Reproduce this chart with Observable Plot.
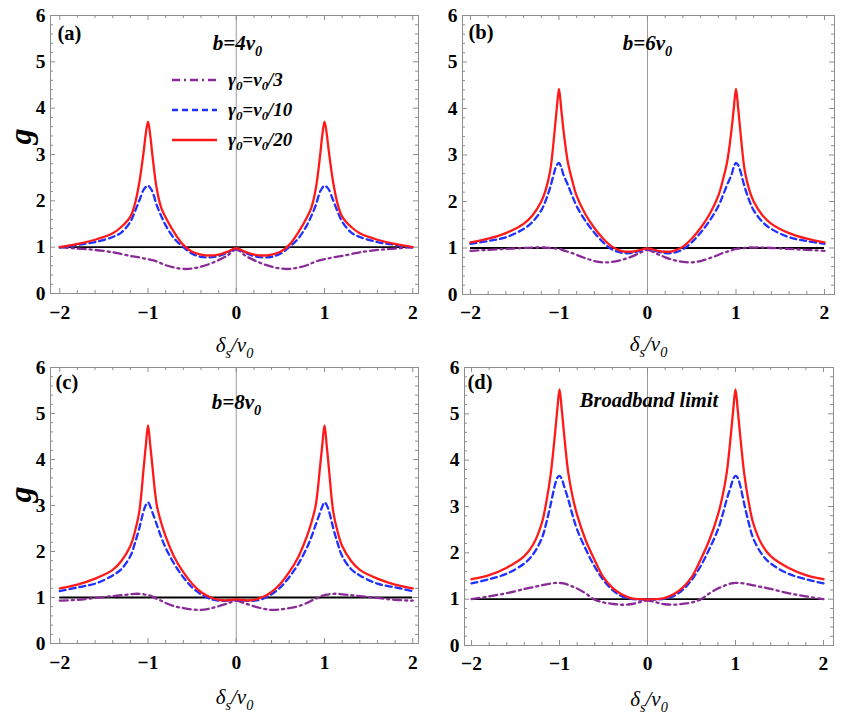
<!DOCTYPE html>
<html>
<head>
<meta charset="utf-8">
<script src="https://cdn.jsdelivr.net/npm/d3@7"></script>
<script src="https://cdn.jsdelivr.net/npm/@observablehq/plot@0.6"></script>
<style>
  body { margin: 0; background: #fff; }
  #wrap { position: relative; width: 841px; height: 715px; overflow: hidden; background: #fff; }
  .panel { position: absolute; }
  #legend { position: absolute; left: 172px; top: 65px; font: italic bold 19px "Liberation Serif", "Times New Roman", serif; color: #000; }
  #legend .row { height: 30px; display: flex; align-items: center; }
  #legend .row svg { width: 45px; height: 30px; margin-right: 11px; }
  #legend sub { font-size: 0.68em; vertical-align: -0.28em; line-height: 0; }
</style>
</head>
<body>
<div id="wrap"></div>
<script>
// ---- data ----
const xs = [-2,-1.8,-1.6,-1.4,-1.3,-1.2,-1.15,-1.1,-1.05,-1.025,-1,-0.975,-0.95,-0.9,-0.85,-0.8,-0.7,-0.6,-0.5,-0.4,-0.3,-0.2,-0.1,
            0,
            0.1,0.2,0.3,0.4,0.5,0.6,0.7,0.8,0.85,0.9,0.95,0.975,1,1.025,1.05,1.1,1.15,1.2,1.3,1.4,1.6,1.8,2];

// (a) b = 4 v0
const red_a    = [1.00,1.07,1.16,1.30,1.44,1.66,1.92,2.38,3.05,3.45,3.71,3.42,2.98,2.25,1.85,1.64,1.31,1.05,0.90,0.84,0.82,0.84,0.90,
                  0.98,
                  0.90,0.84,0.82,0.84,0.90,1.05,1.31,1.64,1.85,2.25,2.98,3.42,3.71,3.45,3.05,2.38,1.92,1.66,1.44,1.30,1.16,1.07,1.00];
const blue_a   = [0.99,1.05,1.11,1.22,1.32,1.55,1.76,2.00,2.24,2.30,2.33,2.28,2.20,1.90,1.67,1.47,1.18,1.00,0.86,0.79,0.78,0.81,0.88,
                  0.97,
                  0.88,0.81,0.78,0.79,0.86,1.00,1.18,1.47,1.67,1.90,2.20,2.28,2.33,2.30,2.24,2.00,1.76,1.55,1.32,1.22,1.11,1.05,0.99];
const purple_a = [1.00,0.97,0.94,0.89,0.85,0.81,0.795,0.78,0.76,0.75,0.74,0.73,0.72,0.69,0.65,0.61,0.56,0.53,0.54,0.58,0.64,0.72,0.82,
                  0.95,
                  0.82,0.72,0.64,0.58,0.54,0.53,0.56,0.61,0.65,0.69,0.72,0.73,0.74,0.75,0.76,0.78,0.795,0.81,0.85,0.89,0.94,0.97,1.00];

// (b) b = 6 v0
const red_b    = [1.12,1.20,1.32,1.52,1.70,2.00,2.25,2.65,3.50,4.00,4.42,4.00,3.55,2.85,2.45,2.12,1.72,1.43,1.20,1.03,0.94,0.92,0.95,
                  0.99,
                  0.95,0.92,0.94,1.03,1.20,1.43,1.72,2.12,2.45,2.85,3.55,4.00,4.42,4.00,3.50,2.65,2.25,2.00,1.70,1.52,1.32,1.20,1.12];
const blue_b   = [1.09,1.15,1.23,1.41,1.56,1.81,2.02,2.30,2.65,2.78,2.83,2.74,2.58,2.36,2.12,1.90,1.58,1.33,1.12,0.97,0.90,0.89,0.93,
                  0.98,
                  0.93,0.89,0.90,0.97,1.12,1.33,1.58,1.90,2.12,2.36,2.58,2.74,2.83,2.78,2.65,2.30,2.02,1.81,1.56,1.41,1.23,1.15,1.09];
const purple_b = [0.94,0.96,0.98,1.00,1.01,1.01,1.01,1.00,0.99,0.985,0.98,0.97,0.95,0.92,0.89,0.85,0.78,0.72,0.69,0.70,0.74,0.80,0.88,
                  0.96,
                  0.88,0.80,0.74,0.70,0.69,0.72,0.78,0.85,0.89,0.92,0.95,0.97,0.98,0.985,0.99,1.00,1.01,1.01,1.01,1.00,0.98,0.96,0.94];

// (c) b = 8 v0
const red_c    = [1.20,1.28,1.41,1.60,1.80,2.12,2.42,2.85,3.80,4.30,4.74,4.32,3.85,3.00,2.62,2.33,1.87,1.55,1.30,1.12,1.01,0.95,0.94,
                  0.96,
                  0.94,0.95,1.01,1.12,1.30,1.55,1.87,2.33,2.62,3.00,3.85,4.32,4.74,4.30,3.80,2.85,2.42,2.12,1.80,1.60,1.41,1.28,1.20];
const blue_c   = [1.14,1.22,1.30,1.48,1.62,1.90,2.17,2.50,2.88,3.01,3.07,2.98,2.85,2.58,2.31,2.08,1.72,1.44,1.22,1.07,0.97,0.93,0.93,
                  0.95,
                  0.93,0.93,0.97,1.07,1.22,1.44,1.72,2.08,2.31,2.58,2.85,2.98,3.07,3.01,2.88,2.50,2.17,1.90,1.62,1.48,1.30,1.22,1.14];
const purple_c = [0.93,0.95,0.99,1.03,1.05,1.07,1.08,1.08,1.07,1.06,1.05,1.04,1.02,0.97,0.93,0.88,0.81,0.77,0.74,0.73,0.76,0.81,0.87,
                  0.93,
                  0.87,0.81,0.76,0.73,0.74,0.77,0.81,0.88,0.93,0.97,1.02,1.04,1.05,1.06,1.07,1.08,1.08,1.07,1.05,1.03,0.99,0.95,0.93];

// (d) broadband limit
const red_d    = [1.43,1.52,1.68,1.93,2.18,2.65,3.10,3.70,4.60,5.10,5.53,5.10,4.60,3.72,3.20,2.82,2.26,1.84,1.47,1.25,1.11,1.03,1.00,
                  0.99,
                  1.00,1.03,1.11,1.25,1.47,1.84,2.26,2.82,3.20,3.72,4.60,5.10,5.53,5.10,4.60,3.70,3.10,2.65,2.18,1.93,1.68,1.52,1.43];
const blue_d   = [1.34,1.43,1.55,1.77,1.97,2.32,2.65,3.05,3.48,3.62,3.66,3.60,3.45,3.15,2.80,2.50,2.07,1.70,1.41,1.20,1.07,1.01,0.99,
                  0.99,
                  0.99,1.01,1.07,1.20,1.41,1.70,2.07,2.50,2.80,3.15,3.45,3.60,3.66,3.62,3.48,3.05,2.65,2.32,1.97,1.77,1.55,1.43,1.34];
const purple_d = [1.00,1.06,1.13,1.22,1.26,1.30,1.32,1.34,1.35,1.35,1.35,1.345,1.34,1.31,1.27,1.23,1.12,0.99,0.93,0.90,0.88,0.89,0.93,
                  0.97,
                  0.93,0.89,0.88,0.90,0.93,0.99,1.12,1.23,1.27,1.31,1.34,1.345,1.35,1.35,1.35,1.34,1.32,1.30,1.26,1.22,1.13,1.06,1.00];

// ticks
const xMajor = [-2,-1,0,1,2];
const yMajor = [0,1,2,3,4,5,6];
const xMinor = [-1.8,-1.6,-1.4,-1.2,-0.8,-0.6,-0.4,-0.2,0.2,0.4,0.6,0.8,1.2,1.4,1.6,1.8];
const yMinor = [0.2,0.4,0.6,0.8,1.2,1.4,1.6,1.8,2.2,2.4,2.6,2.8,3.2,3.4,3.6,3.8,4.2,4.4,4.6,4.8,5.2,5.4,5.6,5.8];

const seriesNames = ["γ0=v0/3", "γ0=v0/10", "γ0=v0/20"];
const colors = {purple: "#8a2a98", blue: "#1f30ff", red: "#ff1a1a"};
const dashes = {purple: "8,4,2,4", blue: "6,4", red: null};

const serif = '"Liberation Serif", "Times New Roman", serif';

const panels = [
  {tag:"(a)", title:"b=4v0", red:red_a, blue:blue_a, purple:purple_a,
   left:0, top:0, width:420, height:358, mL:50, mR:2, mT:15, mB:65, xd:[-2.105,2.065],
   tagDx:7, tagDy:10, titleDx:3, titleDy:28, titleSize:21, xtDy:19, xlabDy:52, g:true, gDy:-10},
  {tag:"(b)", title:"b=6v0", red:red_b, blue:blue_b, purple:purple_b,
   left:420, top:0, width:421, height:358, mL:42, mR:7, mT:15, mB:64, xd:[-2.09,2.113],
   tagDx:6, tagDy:9, titleDx:-1, titleDy:28, titleSize:21, xtDy:18.5, xlabDy:50, g:false},
  {tag:"(c)", title:"b=8v0", red:red_c, blue:blue_c, purple:purple_c,
   left:0, top:358, width:420, height:357, mL:50, mR:2, mT:9, mB:72, xd:[-2.105,2.065],
   tagDx:5, tagDy:7, titleDx:2, titleDy:35, titleSize:21, xtDy:19, xlabDy:54, g:true, gDy:-3},
  {tag:"(d)", title:"Broadband limit", red:red_d, blue:blue_d, purple:purple_d,
   left:420, top:358, width:421, height:357, mL:44, mR:8, mT:9, mB:70, xd:[-2.08,2.114],
   tagDx:3, tagDy:7, titleDx:0, titleDy:33, titleSize:20.5, xtDy:18.5, xlabDy:54, g:false}
];

function richText(svg, content, parts, size) {
  d3.select(svg).selectAll("text").filter(function() { return this.textContent === content; }).each(function() {
    const t = d3.select(this);
    t.selectAll("*").remove();
    t.text(null);
    let shifted = false;
    for (const [s, sub] of parts) {
      const ts = t.append("tspan").text(s);
      if (sub) {
        ts.attr("font-size", size * 0.68);
        if (!shifted) { ts.attr("dy", size * 0.28); shifted = true; }
      } else if (shifted) {
        ts.attr("dy", -size * 0.28); shifted = false;
      }
    }
  });
}

const wrap = document.getElementById("wrap");
const gray = "#8e8e8e";
const minusFmt = d => d < 0 ? "\u2212" + (-d) : String(d);
const tickFont = {fontSize: 19.5, fontWeight: "bold", fontFamily: serif, fill: "#000"};

for (const p of panels) {
  const ph = p.height - p.mT - p.mB;
  const pw = p.width - p.mL - p.mR;
  const rows = k => xs.map((x, i) => ({x, y: p[k][i]}));
  const marks = [
    Plot.ruleX([0], {stroke: "#9a9a9a", strokeWidth: 1}),
    Plot.ruleY([1], {x1: -2, x2: 2, stroke: "#000", strokeWidth: 1.8}),
    Plot.line(rows("purple"), {x: "x", y: "y", stroke: colors.purple, strokeWidth: 2.3, strokeDasharray: dashes.purple, curve: "catmull-rom"}),
    Plot.line(rows("blue"), {x: "x", y: "y", stroke: colors.blue, strokeWidth: 2.3, strokeDasharray: dashes.blue, curve: "catmull-rom"}),
    Plot.line(rows("red"), {x: "x", y: "y", stroke: colors.red, strokeWidth: 2.3, curve: "catmull-rom"}),
    // inward frame ticks on all four sides
    Plot.ruleX(xMinor, {stroke: gray, insetTop: ph - 3}),
    Plot.ruleX(xMinor, {stroke: gray, insetBottom: ph - 3}),
    Plot.ruleX(xMajor, {stroke: gray, insetTop: ph - 5}),
    Plot.ruleX(xMajor, {stroke: gray, insetBottom: ph - 5}),
    Plot.ruleY(yMinor, {stroke: gray, insetRight: pw - 3}),
    Plot.ruleY(yMinor, {stroke: gray, insetLeft: pw - 3}),
    Plot.ruleY(yMajor, {stroke: gray, insetRight: pw - 5}),
    Plot.ruleY(yMajor, {stroke: gray, insetLeft: pw - 5}),
    Plot.frame({stroke: gray, strokeWidth: 1}),
    // tick labels
    Plot.text(xMajor, {x: d => d, text: minusFmt, frameAnchor: "bottom", dy: p.xtDy, lineAnchor: "middle", ...tickFont}),
    Plot.text(yMajor, {y: d => d, text: d => String(d), frameAnchor: "left", dx: -5, textAnchor: "end", lineAnchor: "middle", ...tickFont}),
    // annotations
    Plot.text([p.tag], {text: d => d, frameAnchor: "top-left", dx: p.tagDx, dy: p.tagDy, textAnchor: "start", lineAnchor: "top",
                fontSize: 20.5, fontWeight: "bold", fontFamily: serif, fill: "#000"}),
    Plot.text([p.title], {text: d => d, frameAnchor: "top", dx: p.titleDx, dy: p.titleDy, lineAnchor: "middle",
                fontSize: p.titleSize, fontWeight: "bold", fontStyle: "italic", fontFamily: serif, fill: "#000"}),
    Plot.text(["δs/v0"], {text: d => d, frameAnchor: "bottom", dy: p.xlabDy, lineAnchor: "middle",
                fontSize: 21, fontStyle: "italic", fontFamily: serif, fill: "#000"})
  ];
  if (p.g) {
    marks.push(Plot.text(["g"], {text: d => d, frameAnchor: "left", dx: -30, dy: p.gDy, rotate: -90, lineAnchor: "middle",
                fontSize: 32, fontWeight: "bold", fontStyle: "italic", fontFamily: serif, fill: "#000"}));
  }
  const svg = Plot.plot({
    width: p.width, height: p.height,
    marginLeft: p.mL, marginRight: p.mR, marginTop: p.mT, marginBottom: p.mB,
    x: {domain: p.xd, axis: null},
    y: {domain: [0, 6], axis: null},
    style: {background: "transparent", overflow: "visible", fontFamily: serif},
    marks
  });
  const t = p.title;
  if (t.startsWith("b=")) richText(svg, t, [[t.slice(0, -2) + "v", false], ["0", true]], p.titleSize);
  richText(svg, "δs/v0", [["δ", false], ["s", true], ["/v", false], ["0", true]], 21);
  const div = document.createElement("div");
  div.className = "panel";
  div.style.left = p.left + "px";
  div.style.top = p.top + "px";
  div.style.width = p.width + "px";
  div.style.height = p.height + "px";
  div.appendChild(svg);
  wrap.appendChild(div);
}

// legend (panel a)
const legend = document.createElement("div");
legend.id = "legend";
const keys = ["purple", "blue", "red"];
legend.innerHTML = keys.map((k, i) => {
  const name = seriesNames[i];
  const m = name.match(/^γ0=v0\/(\d+)$/);
  const label = `γ<sub>0</sub>=v<sub>0</sub>/${m ? m[1] : ""}`;
  const dash = dashes[k] ? `stroke-dasharray="${dashes[k]}"` : "";
  return `<div class="row"><svg viewBox="0 0 45 30"><line x1="0" x2="45" y1="15" y2="15" stroke="${colors[k]}" stroke-width="2.3" ${dash}/></svg><span>${label}</span></div>`;
}).join("");
wrap.appendChild(legend);
</script>
</body>
</html>
